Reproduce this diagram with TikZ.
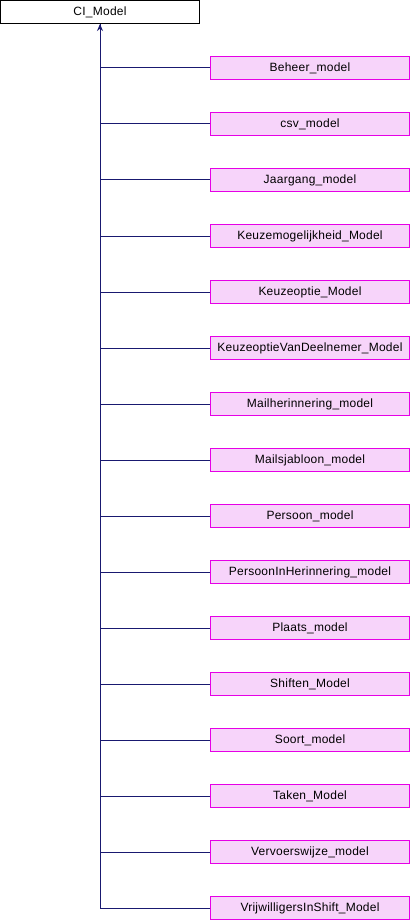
\documentclass[tikz,border=0pt]{standalone}
\usepackage{fontspec}
\setmainfont{Liberation Sans}
\usetikzlibrary{arrows.meta}
\definecolor{edgeblue}{RGB}{25,25,112}
\definecolor{boxfill}{RGB}{247,212,250}
\definecolor{boxline}{RGB}{230,0,230}
\begin{document}
\begin{tikzpicture}[x=1pt,y=-1pt,
  topbox/.style={draw=black,fill=white,line width=1pt,minimum width=199pt,minimum height=23pt,inner sep=0pt,font=\fontsize{12}{14}\selectfont\addfontfeature{LetterSpace=2}},
  childbox/.style={draw=boxline,fill=boxfill,line width=1pt,minimum width=199pt,minimum height=23pt,inner sep=0pt,font=\fontsize{12}{14}\selectfont\addfontfeature{LetterSpace=2}},
  edge/.style={draw=edgeblue,line width=1pt},
  inh/.style={edge,-{Stealth[length=7pt,width=6pt]}}]
\useasboundingbox (0,0) rectangle (410,920);
\node[topbox] (base) at (100,12) {CI\_Model};
\foreach \name [count=\i] in {Beheer\_model,csv\_model,Jaargang\_model,Keuzemogelijkheid\_Model,Keuzeoptie\_Model,KeuzeoptieVanDeelnemer\_Model,Mailherinnering\_model,Mailsjabloon\_model,Persoon\_model,PersoonInHerinnering\_model,Plaats\_model,Shiften\_Model,Soort\_model,Taken\_Model,Vervoerswijze\_model,VrijwilligersInShift\_Model}{
  \node[childbox] (c\i) at (310,{68+(\i-1)*56}) {\name};
}
\foreach \i in {1,...,15}{
  \draw[edge] (c\i.west) -| (base.south);
}
\draw[inh] (c16.west) -| (base.south);
\end{tikzpicture}
\end{document}
